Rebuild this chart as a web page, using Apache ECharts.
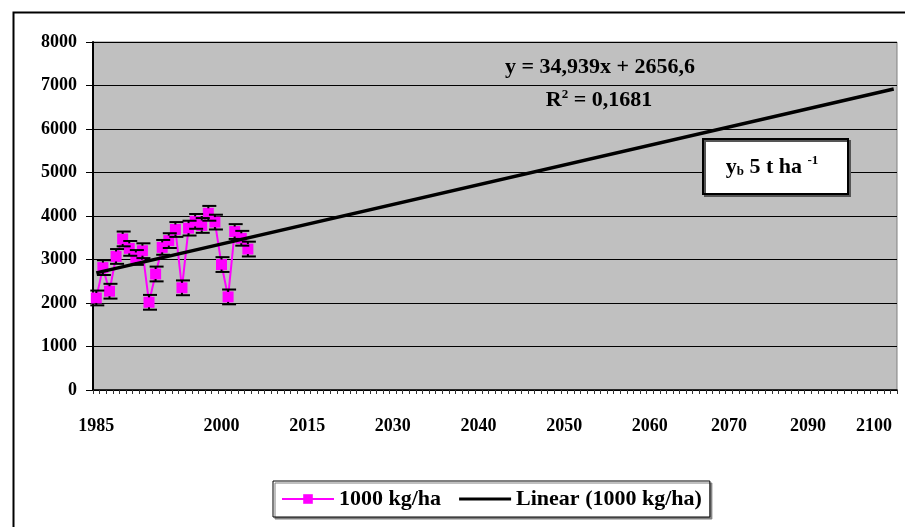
<!DOCTYPE html>
<html>
<head>
<meta charset="utf-8">
<script src="https://cdn.jsdelivr.net/npm/echarts@6/dist/echarts.min.js"></script>
<style>
html,body{margin:0;padding:0;background:#fff;}
#chart{width:905px;height:527px;}
</style>
</head>
<body>
<div id="chart"></div>
<script>
// ---- data ----
const categoryCount = 122;
const xLabelIndex = [0, 19, 32, 45, 58, 71, 84, 96, 108, 118];
const xLabelText = ['1985', '2000', '2015', '2030', '2040', '2050', '2060', '2070', '2090', '2100'];
const yieldValues = [2116, 2814, 2271, 3070, 3473, 3256, 3047, 3202, 2016, 2667, 3279, 3434,
                     3690, 2349, 3721, 3876, 3783, 4062, 3860, 2884, 2140, 3643, 3488, 3240];
const errorValue = 170;
const trendPoints = [[0, 2691.5], [121, 6919.2]];
const yTicks = [0, 1000, 2000, 3000, 4000, 5000, 6000, 7000, 8000];
const seriesName = '1000 kg/ha';
const trendName = 'Linear (1000 kg/ha)';
const equationText = 'y = 34,939x + 2656,6';
const r2Text = '0,1681';

const categories = Array.from({length: categoryCount}, (_, i) => String(i));
const FONT = '"Liberation Serif", "Times New Roman", serif';

const chart = echarts.init(document.getElementById('chart'), null, {renderer: 'canvas'});
const option = {
  animation: false,
  backgroundColor: '#fff',
  grid: {left: 93, right: 8, top: 42, bottom: 137, show: true,
         backgroundColor: '#C0C0C0', borderColor: '#808080', borderWidth: 1},
  xAxis: {
    type: 'category', data: categories, boundaryGap: true,
    axisLine: {lineStyle: {color: '#000', width: 1.5}},
    axisTick: {show: true, interval: 0, length: 4, lineStyle: {color: '#333'}},
    axisLabel: {
      interval: (i) => xLabelIndex.includes(i),
      formatter: (v, i) => { const k = xLabelIndex.indexOf(Number(v)); return k >= 0 ? xLabelText[k] : ''; },
      margin: 27, color: '#000', fontFamily: FONT, fontWeight: 'bold', fontSize: 18
    },
    splitLine: {show: false}
  },
  yAxis: {
    type: 'value', min: yTicks[0], max: yTicks[yTicks.length - 1], interval: 1000,
    axisLine: {show: true, lineStyle: {color: '#000', width: 2}},
    axisTick: {show: true, length: 7, lineStyle: {color: '#000'}},
    axisLabel: {margin: 16, color: '#000', fontFamily: FONT, fontWeight: 'bold', fontSize: 18,
                formatter: (v) => String(v)},
    splitLine: {show: true, lineStyle: {color: '#000', width: 1}}
  },
  legend: {
    left: 273, top: 481, orient: 'horizontal',
    data: [
      {name: seriesName},
      {name: trendName, icon: 'path://M0,0 L50,0 L50,3 L0,3 Z', itemStyle: {color: '#000'}}
    ],
    padding: [7, 8, 7, 8], itemGap: 18, itemWidth: 52, itemHeight: 12,
    borderColor: '#000', borderWidth: 1, backgroundColor: '#fff',
    shadowColor: '#808080', shadowOffsetX: 2, shadowOffsetY: 2, shadowBlur: 0,
    textStyle: {color: '#000', fontFamily: FONT, fontWeight: 'bold', fontSize: 22}
  },
  series: [
    {
      name: seriesName, type: 'line', data: yieldValues, z: 3,
      symbol: 'rect', symbolSize: 11, showSymbol: true, showAllSymbol: true,
      lineStyle: {color: '#FF00FF', width: 2},
      itemStyle: {color: '#FF00FF'}
    },
    {
      name: 'err', type: 'custom', z: 4,
      data: yieldValues.map((v, i) => [i, v]),
      renderItem: (params, api) => {
        const x = api.value(0), v = api.value(1);
        const hi = api.coord([x, v + errorValue]);
        const lo = api.coord([x, v - errorValue]);
        const c = api.coord([x, v]);
        const hw = 7;
        const st = {stroke: '#000', lineWidth: 2};
        return {type: 'group', children: [
          {type: 'line', shape: {x1: hi[0], y1: hi[1], x2: hi[0], y2: c[1] - 5}, style: st},
          {type: 'line', shape: {x1: lo[0], y1: lo[1], x2: lo[0], y2: c[1] + 5}, style: st},
          {type: 'line', shape: {x1: hi[0] - hw + 1, y1: hi[1], x2: hi[0] + hw + 1, y2: hi[1]}, style: st},
          {type: 'line', shape: {x1: lo[0] - hw + 1, y1: lo[1], x2: lo[0] + hw + 1, y2: lo[1]}, style: st}
        ]};
      }
    },
    {
      name: trendName, type: 'line', data: trendPoints, z: 5,
      symbol: 'none', showSymbol: false,
      lineStyle: {color: '#000', width: 3.5},
      itemStyle: {color: '#000'}
    }
  ],
  graphic: [
    {type: 'rect', left: 11, top: 10, shape: {width: 900, height: 530},
     style: {fill: 'none', stroke: '#000', lineWidth: 2}, z: 0, silent: true},
    {type: 'text', x: 600, y: 67, z: 10,
     style: {text: equationText, align: 'center', verticalAlign: 'middle',
             font: 'bold 22px ' + FONT, fill: '#000'}},
    {type: 'text', x: 599, y: 100, z: 10,
     style: {text: '{b|R}{s|2}{b| = ' + r2Text + '}', align: 'center', verticalAlign: 'middle',
             rich: {b: {font: 'bold 22px ' + FONT, fill: '#000', verticalAlign: 'bottom'},
                    s: {font: 'bold 13px ' + FONT, fill: '#000', verticalAlign: 'top', padding: [0, 0, 10, 0]}}}},
    {type: 'rect', x: 703, y: 139, z: 10, shape: {width: 145, height: 55},
     style: {fill: '#fff', stroke: '#000', lineWidth: 2, shadowColor: '#555', shadowOffsetX: 2, shadowOffsetY: 2}},
    {type: 'text', x: 772, y: 167, z: 11,
     style: {text: '{b|y}{sub|b}{b| 5 t ha }{sup|-1}', align: 'center', verticalAlign: 'middle',
             rich: {b: {font: 'bold 22px ' + FONT, fill: '#000'},
                    sub: {font: 'bold 13px ' + FONT, fill: '#000', padding: [10, 0, 0, 0]},
                    sup: {font: 'bold 13px ' + FONT, fill: '#000', padding: [0, 0, 12, 0]}}}}
  ]
};
chart.setOption(option);
</script>
</body>
</html>
